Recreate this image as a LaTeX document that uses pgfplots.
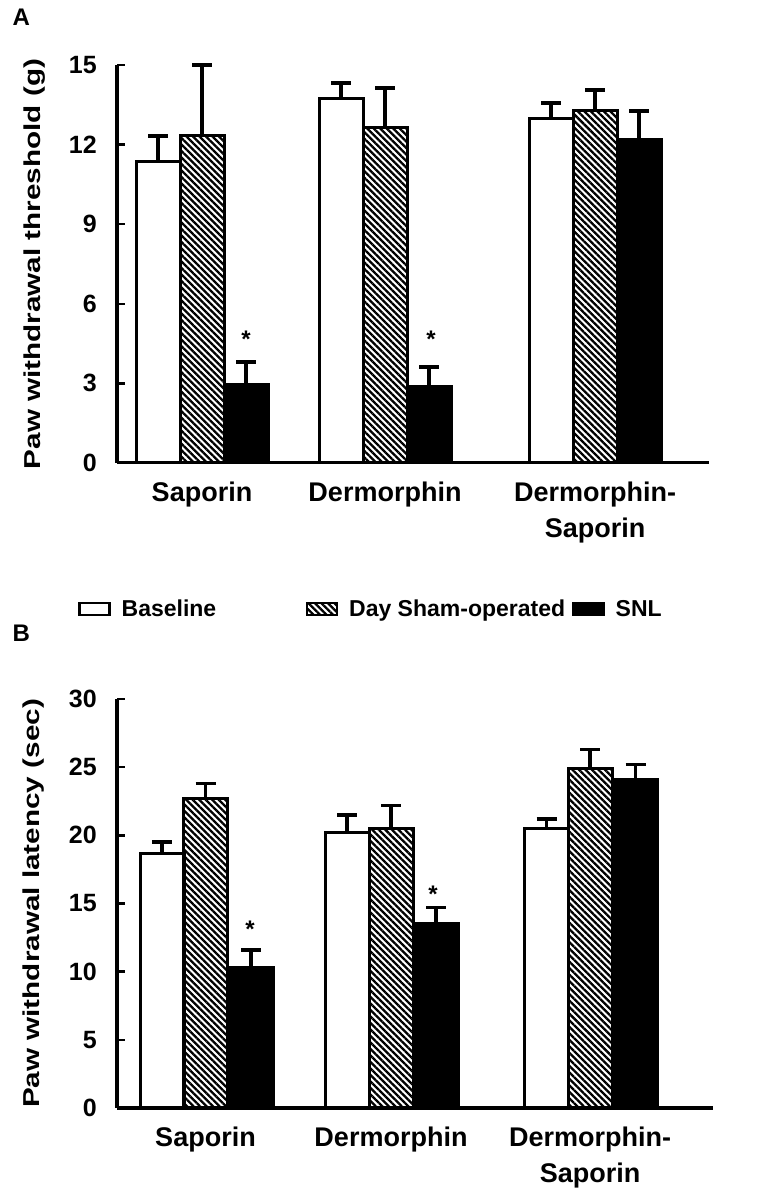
\documentclass[border=0pt]{standalone}
\usepackage{fontspec}
\setmainfont{Liberation Sans}
\newfontfamily\ylabfont{Liberation Sans}[FakeStretch=1.29]
\usepackage{pgfplots}
\pgfplotsset{compat=1.18}
\usetikzlibrary{patterns.meta}
\tikzset{hatch/.style={pattern={Lines[angle=-45,distance=4.6bp,line width=2.3bp]}, pattern color=black}}
\pgfplotsset{
  panel/.style={
    scale only axis, axis lines=left, axis line style={-, line width=3bp},
    xmin=0, ymin=0, enlargelimits=false, clip=false,
    tick align=inside, major tick length=8bp, ytick pos=left,
    major y tick style={line width=2.5bp, black},
    major x tick style={draw=none},
    /pgf/number format/assume math mode=true,
    yticklabel style={font=\fontsize{25bp}{25bp}\selectfont\bfseries, inner sep=0pt, xshift=-20bp},
    xticklabel style={font=\fontsize{27bp}{36bp}\selectfont\bfseries, align=center, inner sep=0pt, yshift=-19bp, anchor=north},
    every axis y label/.style={at={(rel axis cs:-0.14,0.5)}, rotate=90, anchor=center, font=\ylabfont\fontsize{23bp}{23bp}\selectfont\bfseries},
  },
  bstyle/.style={ybar, bar width=44, bar shift=0, draw=black, /tikz/line width=3bp,
    legend image code/.code={\draw[##1, /tikz/line width=2.5bp] (0bp,-6bp) rectangle (30bp,6bp);},
    error bars/y dir=plus, error bars/y explicit,
    error bars/error bar style={/tikz/line width=3.5bp, black, solid},
    error bars/error mark options={/tikz/line width=3.5bp, mark size=10bp, black, rotate=90}},
}
\begin{document}
\begin{tikzpicture}
\path[use as bounding box] (0,0) rectangle (758bp,1199bp);
\node[anchor=base west, font=\fontsize{24bp}{24bp}\selectfont\bfseries] at (9bp,1173bp) {A};
\node[anchor=base west, font=\fontsize{24bp}{24bp}\selectfont\bfseries] at (9bp,557bp) {B};
% Panel A
\begin{axis}[panel, at={(117bp,736bp)}, anchor=south west,
  width=592bp, height=398bp, xmax=592, ymax=15,
  ytick={0,3,...,15}, xtick={85,268,478},
  xticklabels={Saporin,Dermorphin,{Dermorphin-\\Saporin}},
  ylabel={Paw withdrawal threshold (g)},
  legend style={at={(rel axis cs:-0.0659,-0.3668)}, anchor=west, draw=none, fill=none,
    inner sep=0pt, legend columns=3,
    font=\fontsize{23bp}{23bp}\selectfont\bfseries,
    /tikz/every odd column/.append style={column sep=11bp},
    /tikz/every even column/.append style={column sep=0bp},
    nodes={inner sep=0pt, anchor=west}},
  ]
\addplot[bstyle, fill=white] coordinates {(41,11.38) +- (0,0.95) (224,13.72) +- (0,0.6) (434,12.97) +- (0,0.6)};
\addlegendentry{\makebox[184bp][l]{Baseline}}
\addplot[bstyle, hatch] coordinates {(85,12.36) +- (0,2.64) (268,12.66) +- (0,1.47) (478,13.3) +- (0,0.76)};
\addlegendentry{\makebox[223bp][l]{Day Sham-operated}}
\addplot[bstyle, fill=black] coordinates {(129,2.97) +- (0,0.83) (312,2.87) +- (0,0.75) (522,12.21) +- (0,1.06)};
\addlegendentry{SNL}
\node[anchor=base, font=\fontsize{24bp}{24bp}\selectfont\bfseries] at (axis cs:129,4.35) {*};
\node[anchor=base, font=\fontsize{24bp}{24bp}\selectfont\bfseries] at (axis cs:314,4.35) {*};
\end{axis}
% Panel B
\begin{axis}[panel, at={(117bp,91bp)}, anchor=south west,
  width=596bp, height=409bp, xmax=596, ymax=30,
  ytick={0,5,...,30}, xtick={88.5,274,473},
  xticklabels={Saporin,Dermorphin,{Dermorphin-\\Saporin}},
  ylabel={Paw withdrawal latency (sec)},
  ]
\addplot[bstyle, fill=white] coordinates {(45,18.7) +- (0,0.8) (230,20.2) +- (0,1.3) (429.5,20.5) +- (0,0.7)};
\addplot[bstyle, hatch] coordinates {(88.5,22.7) +- (0,1.1) (274,20.5) +- (0,1.7) (473,24.9) +- (0,1.4)};
\addplot[bstyle, fill=black] coordinates {(134,10.3) +- (0,1.3) (319,13.5) +- (0,1.2) (518.5,24.1) +- (0,1.1)};
\node[anchor=base, font=\fontsize{24bp}{24bp}\selectfont\bfseries] at (axis cs:133,12.5) {*};
\node[anchor=base, font=\fontsize{24bp}{24bp}\selectfont\bfseries] at (axis cs:316,15.1) {*};
\end{axis}
\end{tikzpicture}
\end{document}
